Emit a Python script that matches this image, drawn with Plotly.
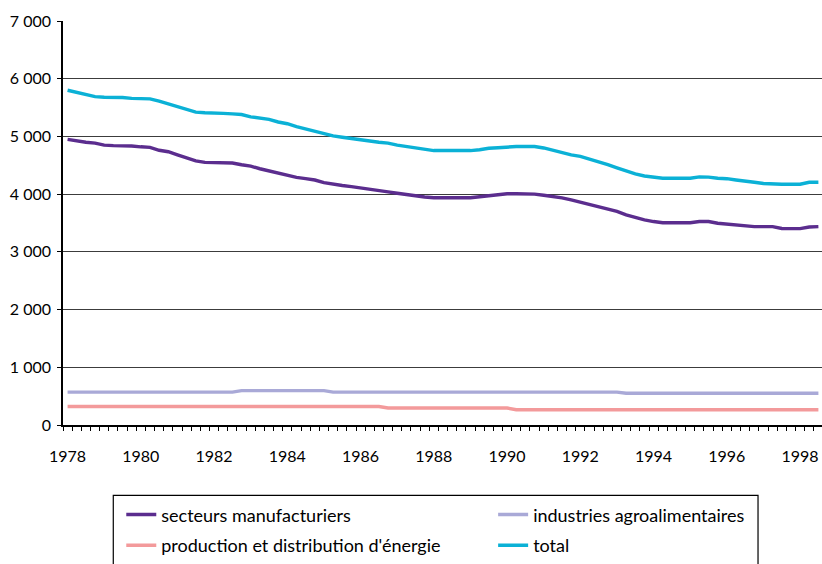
import plotly.graph_objects as go

# Quarterly positions 1978Q1 .. 1998Q3
quarters = [1978 + k / 4 for k in range(83)]

secteurs_manufacturiers = [
    4950, 4920, 4900, 4885, 4850, 4840, 4840, 4835, 4820, 4810,
    4760, 4735, 4680, 4620, 4575, 4550, 4545, 4545, 4540, 4510,
    4485, 4440, 4400, 4375, 4330, 4290, 4270, 4245, 4200, 4170,
    4150, 4130, 4110, 4085, 4060, 4040, 4015, 3990, 3970, 3950,
    3937, 3937, 3937, 3937, 3937, 3955, 3975, 3995, 4007, 4007,
    4007, 4000, 3980, 3960, 3935, 3900, 3860, 3820, 3780, 3740,
    3700, 3640, 3595, 3555, 3525, 3505, 3505, 3505, 3505, 3525,
    3525, 3495, 3480, 3460, 3440, 3437, 3437, 3437, 3405, 3402,
    3402, 3430, 3437,
]

industries_agroalimentaires = (
    [570] * 19 + [595] * 10 + [570] * 32 + [550] * 22
)

production_energie = [320] * 35 + [295] * 14 + [265] * 34

total = [
    5800, 5760, 5715, 5690, 5680, 5680, 5675, 5660, 5660, 5650,
    5610, 5560, 5510, 5460, 5420, 5410, 5410, 5400, 5390, 5380,
    5340, 5320, 5295, 5250, 5220, 5170, 5130, 5090, 5040, 5010,
    4985, 4960, 4945, 4920, 4900, 4885, 4850, 4825, 4800, 4775,
    4755, 4755, 4755, 4755, 4755, 4770, 4795, 4805, 4820, 4825,
    4825, 4825, 4800, 4755, 4720, 4680, 4655, 4610, 4560, 4510,
    4455, 4400, 4350, 4315, 4290, 4275, 4275, 4275, 4275, 4300,
    4295, 4275, 4268, 4245, 4220, 4205, 4185, 4172, 4172, 4172,
    4172, 4205, 4207,
]

x_tickvals = [1978, 1980, 1982, 1984, 1986, 1988, 1990, 1992, 1994, 1996, 1998]
x_ticktext = ["1978", "1980", "1982", "1984", "1986", "1988", "1990", "1992", "1994", "1996", "1998"]
y_tickvals = [0, 1000, 2000, 3000, 4000, 5000, 6000, 7000]
y_ticktext = ["0", "1 000", "2 000", "3 000", "4 000", "5 000", "6 000", "7 000"]

FONT = "Lato, 'Open Sans', sans-serif"
TICK_FS = 16
LEG_FS = 18

W, H = 822, 564
ml, mt, mb = 62.7, 20.7, 564 - 426.7
pw = W - ml
ph = H - mt - mb


def px_x(p):
    return (p - ml) / pw


def px_y(p):
    return (H - mb - p) / ph


series = [
    ("secteurs manufacturiers", secteurs_manufacturiers, "#5B2D8E", "legend", 121, 517),
    ("industries agroalimentaires", industries_agroalimentaires, "#A9A9D7", "legend2", 493, 517),
    ("production et distribution d'énergie", production_energie, "#F39A9B", "legend3", 121, 548),
    ("total", total, "#0BB1D6", "legend4", 493, 548),
]

fig = go.Figure()
legends = {}
for name, vals, color, leg, lx, ly in series:
    fig.add_trace(go.Scatter(x=quarters, y=vals, mode="lines", name=name,
                             line=dict(color=color, width=3.4), legend=leg))
    legends[leg] = dict(
        x=px_x(lx), y=px_y(ly), xanchor="left", yanchor="middle",
        orientation="h", itemwidth=30,
        font=dict(family=FONT, size=LEG_FS, color="black"),
        bgcolor="rgba(0,0,0,0)", borderwidth=0,
    )

fig.update_layout(
    width=W, height=H,
    margin=dict(l=ml, r=0, t=mt, b=mb, pad=0),
    paper_bgcolor="white", plot_bgcolor="white",
    font=dict(family=FONT, size=TICK_FS, color="black"),
    showlegend=True,
    xaxis=dict(
        range=[1977.875, 1977.875 + (W - ml) / 36.64],
        tickvals=x_tickvals, ticktext=x_ticktext,
        ticks="", showgrid=False, zeroline=False,
        showline=True, linecolor="black", linewidth=1.5,
        tickfont=dict(family=FONT, size=TICK_FS, color="black"),
        ticklabelstandoff=16,
        minor=dict(tick0=1977.875, dtick=0.25, ticks="outside", ticklen=4,
                   tickcolor="black", tickwidth=1, showgrid=False),
    ),
    yaxis=dict(
        range=[0, 7000],
        tickvals=y_tickvals, ticktext=y_ticktext,
        ticks="outside", ticklen=4, tickcolor="black", tickwidth=1,
        showgrid=True, gridcolor="#3c3c3c", gridwidth=1,
        zeroline=False, showline=True, linecolor="black", linewidth=1.5,
        tickfont=dict(family=FONT, size=TICK_FS, color="black"),
        ticklabelstandoff=3,
    ),
    shapes=[dict(type="rect", xref="paper", yref="paper",
                 x0=px_x(113), x1=px_x(758), y0=px_y(497.5), y1=px_y(572),
                 line=dict(color="black", width=1.2), fillcolor="rgba(0,0,0,0)",
                 layer="below")],
)
fig.update_layout(**legends)

fig.write_html("out.html")
